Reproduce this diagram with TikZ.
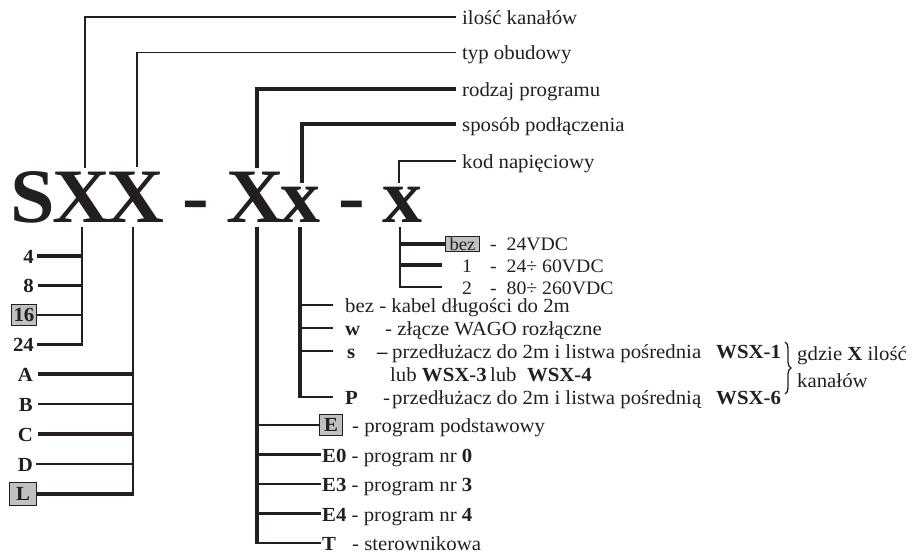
\documentclass[tikz,border=0pt]{standalone}
\usepackage{fontspec}
\setmainfont{Liberation Serif}[FakeStretch=1.04]
\usetikzlibrary{decorations.pathreplacing}
\definecolor{ink}{RGB}{35,31,32}
\definecolor{boxgray}{RGB}{192,192,192}
\begin{document}
\begin{tikzpicture}[x=1pt,y=-1pt,
  every node/.style={text=ink, inner sep=0pt},
  big/.style={font=\fontsize{77}{80}\selectfont\bfseries, anchor=base},
  desc/.style={font=\fontsize{20}{24}\selectfont, anchor=west, text height=15pt, text depth=0pt},
  vdesc/.style={font=\fontsize{19}{22}\selectfont, anchor=west, text height=14pt, text depth=0pt},
  code/.style={font=\fontsize{20}{24}\selectfont\bfseries, text height=14pt, text depth=0pt},
  gbox/.style={draw=ink, fill=boxgray, line width=1.1pt, font=\fontsize{20}{24}\selectfont\bfseries},
  thinl/.style={draw=ink, line width=1.6pt},
  midl/.style={draw=ink, line width=2.2pt},
  thickl/.style={draw=ink, line width=3.3pt},
]
\useasboundingbox (0,0) rectangle (912,553);

% big code letters
\node[big] (S)  at (32.5,223) {S};
\node[big] (X1) at (81.5,223) {X};
\node[big] (X2) at (135,223) {X};
\node[big] (D1) at (195.5,223) {-};
\node[big] (X3) at (255,223) {X};
\node[big] (x4) at (300.5,223) {x};
\node[big] (D2) at (352,223) {-};
\node[big] (x5) at (402.5,223) {x};

% top labels
\node[desc] (l1) at (462,17) {ilość kanałów};
\node[desc] (l2) at (462,52.5) {typ obudowy};
\node[desc] (l3) at (462,89) {rodzaj programu};
\node[desc] (l4) at (462,124) {sposób podłączenia};
\node[desc] (l5) at (462,161) {kod napięciowy};

\coordinate (t1) at (85,168);
\coordinate (t2) at (137,167);
\coordinate (t3) at (257,168);
\coordinate (t4) at (302,183);
\coordinate (t5) at (399,183);
\draw[midl]   (t1) |- ([xshift=-6pt]l1.west);
\draw[thinl]  (t2) |- ([xshift=-6pt]l2.west);
\draw[thickl] (t3) |- ([xshift=-6pt]l3.west);
\draw[thickl] (t4) |- ([xshift=-6pt]l4.west);
\draw[midl]   (t5) |- ([xshift=-6pt]l5.west);

% tree 1: number of channels
\coordinate (b1) at (82,227);
\node[code, anchor=east] (n4) at (34,256) {4};
\node[code, anchor=east] (n8) at (34,285.5) {8};
\node[gbox, minimum width=25pt, minimum height=21pt, anchor=east] (n16) at (37,315) {16};
\node[code, anchor=east] (n24) at (34,344.5) {24};
\draw[thickl] ([xshift=3pt]n4.east) -- (n4.east -| b1);
\draw[thickl] ([xshift=4pt]n8.east) -- (n8.east -| b1);
\draw[thinl] (n16.east) -- (n16.east -| b1);
\draw[midl] (b1) |- ([xshift=3pt]n24.east);

% tree 2: housing type
\coordinate (b2) at (133,227);
\node[code, anchor=east] (hA) at (33,374) {A};
\node[code, anchor=east] (hB) at (33,404) {B};
\node[code, anchor=east] (hC) at (33,434) {C};
\node[code, anchor=east] (hD) at (33,464) {D};
\node[gbox, minimum width=27pt, minimum height=23pt, anchor=east] (hL) at (37,494) {L};
\draw[thickl] ([xshift=5pt]hA.east) -- (hA.east -| b2);
\draw[thinl]  ([xshift=5pt]hB.east) -- (hB.east -| b2);
\draw[thickl] ([xshift=5pt]hC.east) -- (hC.east -| b2);
\draw[thinl]  ([xshift=3pt]hD.east) -- (hD.east -| b2);
\draw[midl] (b2) -- ([yshift=-1.6pt]b2 |- hL.east);
\draw[thickl] (hL.east) -- ([xshift=1.1pt]hL.east -| b2);

% tree 3: program type
\coordinate (b3) at (257,227);
\node[gbox, minimum width=23pt, minimum height=21pt, anchor=west] (pE) at (319,425) {E};
\node[desc] (pEd) at (352,425) {- program podstawowy};
\node[desc] (pE0) at (322,454.5) {\textbf{E0} - program nr \textbf{0}};
\node[desc] (pE3) at (322,484) {\textbf{E3} - program nr \textbf{3}};
\node[desc] (pE4) at (322,513.5) {\textbf{E4} - program nr \textbf{4}};
\node[desc] (pT) at (322,543) {\textbf{T}};
\node[desc] (pTd) at (352,543) {- sterownikowa};
\draw[midl] (pE.west) -- (pE.west -| b3);
\draw[midl] ([xshift=-1pt]pE0.west) -- (pE0.west -| b3);
\draw[midl] ([xshift=-1pt]pE3.west) -- (pE3.west -| b3);
\draw[midl] ([xshift=-1pt]pE4.west) -- (pE4.west -| b3);
\draw[thickl] (b3) -- (b3 |- pT.west);
\draw[midl] ([xshift=-1.6pt]b3 |- pT.west) -- ([xshift=-1pt]pT.west);

% tree 4: connection type
\coordinate (b4) at (300,227);
\node[desc] (cbez) at (345,305) {bez - kabel długości do 2m};
\node[desc] (cw) at (345,328) {\textbf{w}};
\node[desc] (cwd) at (385,328) {- złącze WAGO rozłączne};
\node[desc] (cs) at (347,351) {\textbf{s}};
\node[desc] (csd) at (377,351) {\textbf{–}};
\node[desc] (cst) at (392,351) {przedłużacz do 2m i listwa pośrednia};
\node[desc] (csw) at (716,351) {\textbf{WSX-1}};
\node[desc] (club) at (390,374) {lub \textbf{WSX-3}\,lub \ \textbf{WSX-4}};
\node[desc] (cP) at (345,397) {\textbf{P}};
\node[desc] (cPd) at (383,397) {-};
\node[desc] (cPt) at (392,397) {przedłużacz do 2m i listwa pośrednią};
\node[desc] (cPw) at (716,397) {\textbf{WSX-6}};
\draw[midl] ([xshift=-12pt]cbez.west) -- (cbez.west -| b4);
\draw[midl] ([xshift=-12pt]cw.west) -- (cw.west -| b4);
\draw[midl] ([xshift=-14pt]cs.west) -- (cs.west -| b4);
\draw[thickl] (b4) -- (b4 |- cP.west);
\draw[midl] ([xshift=-1.6pt]b4 |- cP.west) -- ([xshift=-12pt]cP.west);

% brace note
\draw[ink, line width=1.3pt, decorate, decoration={brace, amplitude=6pt}] (785,342) -- (785,394);
\node[desc] (g1) at (797,353) {gdzie \textbf{X} ilość};
\node[desc] (g2) at (797,380) {kanałów};

% tree 5: voltage code
\coordinate (b5) at (400,227);
\node[gbox, font=\fontsize{18}{20}\selectfont, minimum width=34pt, minimum height=15pt, anchor=west] (vbez) at (445,244) {bez};
\node[vdesc] (vbezd) at (490,244) {- \ 24VDC};
\node[vdesc] (v1) at (462,265) {1};
\node[vdesc] (v1d) at (490,265) {- \ 24÷ 60VDC};
\node[vdesc] (v2) at (462,287) {2};
\node[vdesc] (v2d) at (490,287) {- \ 80÷ 260VDC};
\draw[thickl] (vbez.west) -- (vbez.west -| b5);
\draw[thickl] ([xshift=-20pt]v1.west) -- (v1.west -| b5);
\draw[thinl] (b5) |- ([xshift=-20pt]v2.west);
\end{tikzpicture}
\end{document}
